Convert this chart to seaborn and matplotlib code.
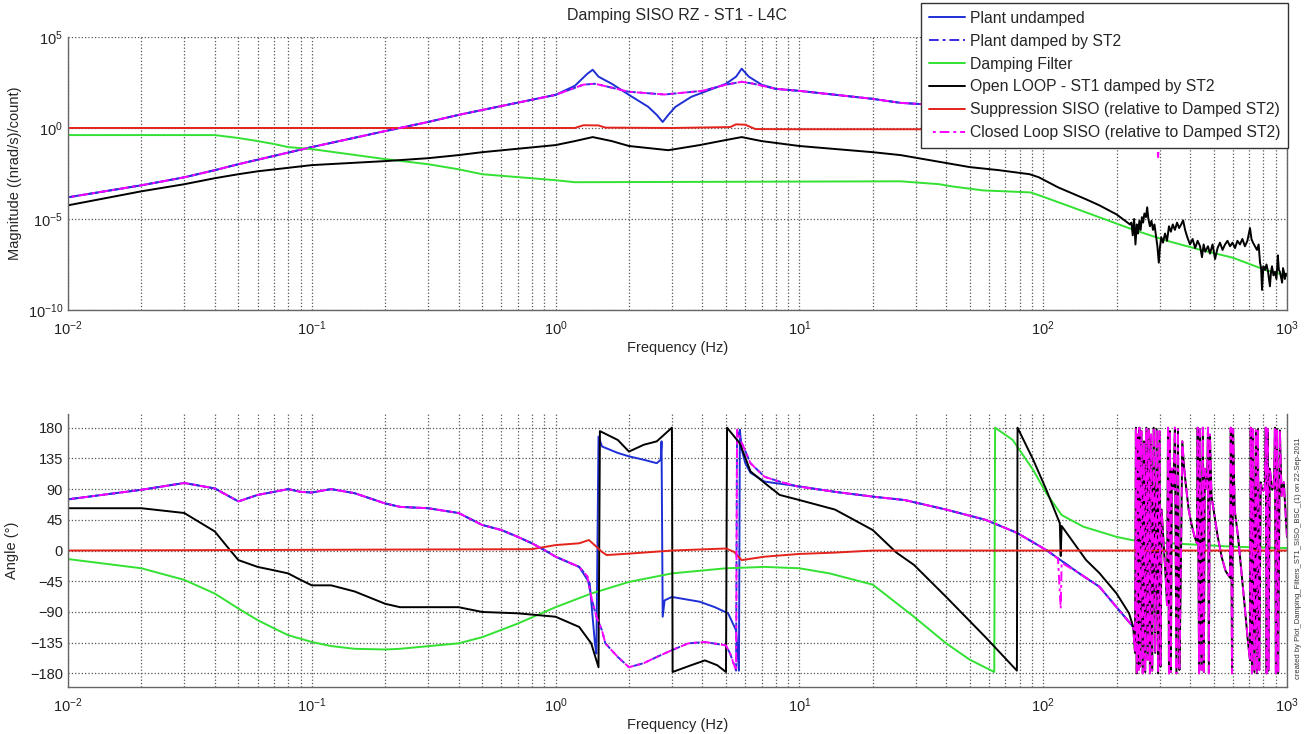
"""
Bode plot: Damping SISO RZ - ST1 - L4C
Values read off the reference figure (log10 magnitude, phase in degrees)
"""

import numpy as np
import matplotlib
matplotlib.use("Agg")
import matplotlib.pyplot as plt
import matplotlib.ticker as mticker
import seaborn as sns

# ---------------- magnitude (log10 of (nrad/s)/count) ----------------
f_mag_undamped = [0.01, 0.02, 0.03, 0.04, 0.05, 0.1, 0.2, 0.3, 0.4, 1.0, 1.2, 1.35, 1.42, 1.5, 1.7,
                  2.0, 2.4, 2.6, 2.75, 2.9, 3.1, 3.6, 4.3, 5.0, 5.5, 5.8, 6.2, 7.0, 8.0, 10, 20, 26,
                  30, 35, 60, 100, 200, 400, 1000]
mag_undamped = [-3.81, -3.15, -2.71, -2.32, -1.99, -1.05, -0.17, 0.33, 0.72, 1.82, 2.32, 2.98, 3.2,
                2.82, 2.43, 1.82, 1.16, 0.72, 0.33, 0.72, 1.16, 1.71, 2.10, 2.43, 2.82, 3.26, 2.82,
                2.38, 2.15, 2.04, 1.60, 1.38, 1.33, 1.27, 1.0, 0.75, 0.4, 0.1, -0.3]

f_mag_damped = [0.01, 0.02, 0.03, 0.04, 0.05, 0.1, 0.2, 0.3, 0.4, 1.0, 1.3, 1.45, 1.6, 2.0, 2.8,
                3.0, 4.0, 5.0, 5.8, 6.5, 8.0, 10, 20, 26, 30, 35, 60, 100, 200, 400, 1000]
mag_damped = [-3.81, -3.15, -2.71, -2.32, -1.99, -1.05, -0.17, 0.33, 0.72, 1.82, 2.38, 2.43, 2.3,
              1.99, 1.84, 1.88, 2.04, 2.38, 2.54, 2.43, 2.15, 2.04, 1.60, 1.38, 1.33, 1.27, 1.0,
              0.75, 0.4, 0.1, -0.3]

f_mag_filter = [0.01, 0.04, 0.05, 0.06, 0.07, 0.08, 0.1, 0.2, 0.3, 0.4, 0.5, 1.0, 1.2, 26, 37.5,
                41.7, 56.7, 88.6, 96.3, 125, 171, 233, 320, 440, 600, 810, 1000]
mag_filter = [-0.39, -0.39, -0.55, -0.72, -0.88, -1.05, -1.16, -1.71, -1.99, -2.27, -2.54, -2.87,
              -2.98, -2.93, -3.09, -3.20, -3.43, -3.54, -3.70, -4.25, -4.92, -5.58, -6.19, -6.69,
              -7.13, -7.79, -8.12]

f_mag_ol = [0.01, 0.02, 0.03, 0.04, 0.05, 0.06, 0.1, 0.2, 0.3, 0.4, 0.5, 1.0, 1.2, 1.42, 1.7, 2.0,
            2.9, 3.9, 5.0, 5.8, 7.0, 10, 20, 26, 50, 66, 88, 96, 115, 150, 170, 200, 227,
            230, 233, 236, 239, 242, 245, 248, 251, 254, 257,
            260, 264, 267, 270, 274, 278, 282, 286, 290, 294,
            298, 301, 305, 310, 316, 322, 328, 334, 340, 347,
            354, 361, 368, 375, 382, 390, 400, 410, 420, 430,
            440, 448, 455, 462, 474, 483, 495, 507, 519, 531,
            544, 557, 570, 584, 598, 612, 626, 641, 656, 672,
            688, 705, 715, 725, 739, 753, 765, 775, 783, 790,
            800, 812, 824, 836, 851, 860, 868, 880, 892, 905,
            917, 926, 935, 945, 955, 963, 971, 980, 990, 1000]
mag_ol = [-4.25, -3.48, -3.09, -2.76, -2.54, -2.38, -2.04, -1.82, -1.66, -1.49, -1.33, -0.94, -0.72,
          -0.50, -0.72, -0.99, -1.22, -0.94, -0.66, -0.50, -0.72, -0.99, -1.33, -1.49, -2.15, -2.32,
          -2.54, -2.71, -3.26, -3.92, -4.25, -4.75, -5.30,
          -5.2, -5.9, -5.0, -6.4, -5.3, -5.8, -5.1, -5.6, -4.9, -5.2,
          -4.7, -4.9, -4.36, -5.0, -5.4, -5.1, -5.6, -5.3, -5.9, -6.5,
          -7.4, -6.6, -6.0, -6.3, -5.8, -6.2, -5.4, -5.7, -5.3, -5.6,
          -5.2, -5.5, -5.3, -5.08, -5.6, -6.0, -6.4, -6.1, -6.6, -6.2,
          -6.5, -7.1, -6.4, -6.8, -6.5, -6.9, -6.4, -7.2, -6.6, -6.3,
          -6.7, -6.4, -6.2, -6.5, -6.3, -6.6, -6.2, -6.4, -6.1, -6.5,
          -6.2, -5.5, -6.1, -6.3, -6.5, -6.7, -6.4, -7.4, -7.7, -8.9,
          -7.6, -7.8, -7.5, -7.9, -8.7, -7.9, -7.6, -8.1, -7.9, -8.3,
          -7.0, -7.8, -7.9, -8.2, -8.5, -7.7, -7.9, -8.3, -8.0, -8.1]

f_mag_supp = [0.01, 1.2, 1.3, 1.5, 1.6, 3.0, 5.2, 5.5, 6.0, 6.6, 10, 1000]
mag_supp = [0, 0, 0.15, 0.14, 0.02, 0.0, 0.05, 0.2, 0.18, -0.06, -0.07, -0.07]

f_mag_cl = [0.01, 0.02, 0.03, 0.04, 0.05, 0.1, 0.2, 0.3, 0.4, 1.0, 1.3, 1.45, 1.6, 2.0, 2.8, 3.0,
            4.0, 5.0, 5.8, 6.5, 8.0, 10, 20, 26, 30, 35, 60, 100, 200, 290, 296, 302, 400, 1000]
mag_cl = [-3.81, -3.15, -2.71, -2.32, -1.99, -1.05, -0.17, 0.33, 0.72, 1.82, 2.38, 2.43, 2.3, 1.99,
          1.84, 1.88, 2.04, 2.38, 2.54, 2.43, 2.15, 2.04, 1.60, 1.38, 1.33, 1.27, 1.0, 0.75, 0.4,
          0.2, -1.6, 0.2, 0.1, -0.3]

# ---------------- phase (degrees) ----------------
f_ph_undamped = [0.01, 0.02, 0.03, 0.04, 0.05, 0.06, 0.07, 0.08, 0.09, 0.1, 0.12, 0.15, 0.2, 0.23,
                 0.3, 0.4, 0.5, 0.6, 0.7, 0.8, 0.9, 1.0, 1.25, 1.38, 1.45, 1.47, 1.5, 1.55, 1.8,
                 2.0, 2.3, 2.6, 2.7, 2.72, 2.75, 2.8, 3.0, 3.9, 4.5, 5.1, 5.5, 5.6, 5.65, 5.7, 5.8,
                 6.0, 6.3, 7.2, 10, 14, 20, 27, 40, 58, 78, 103, 140, 170, 234]
ph_undamped = [75, 89, 99, 91, 72, 81.5, 86, 90, 86, 85, 90, 84, 69, 64, 62, 55, 37.5, 30, 20,
               10.6, 0.7, -9, -24, -48, -136, -151, 167, 152.5, 143, 138, 133, 128, 133, 160, -97,
               -73, -68, -75, -83, -92, -117, -156, -176, 177, 148, 128, 114, 101, 94, 86, 79, 74,
               60, 45, 26, 0.7, -33, -53, -112]

f_ph_damped = [0.01, 0.02, 0.03, 0.04, 0.05, 0.06, 0.07, 0.08, 0.09, 0.1, 0.12, 0.15, 0.2, 0.23,
               0.3, 0.4, 0.5, 0.6, 0.7, 0.8, 0.9, 1.0, 1.25, 1.35, 1.4, 1.47, 1.55, 1.6, 1.8, 2.0,
               2.3, 2.6, 3.0, 3.5, 4.1, 5.0, 5.2, 5.5, 5.55, 5.8, 6.3, 7.2, 8.3, 9.8, 14, 20, 27,
               40, 58, 78, 103, 140, 170, 234]
ph_damped = [75, 89, 99, 91, 72, 81.5, 86, 90, 86, 85, 90, 84, 69, 64, 62, 55, 37.5, 30, 20, 10.6,
             0.7, -9, -24, -38, -68, -97, -117, -136, -156, -171, -165, -156, -146, -136, -134,
             -139, -151, -176, 177, 158, 128, 108, 101, 94, 86, 79, 74, 60, 45, 26, 0.7, -33,
             -53, -112]

f_ph_filter = [0.01, 0.02, 0.03, 0.04, 0.05, 0.06, 0.07, 0.08, 0.1, 0.12, 0.15, 0.2, 0.23, 0.4,
               0.5, 0.7, 1.0, 1.4, 2.0, 3.0, 5.0, 7.2, 10, 13.3, 20, 29.5, 40, 50, 63, 63.5, 75,
               91, 103, 119, 146, 200, 234, 320, 600, 1000]
ph_filter = [-12.5, -26, -43, -63, -85, -102, -114, -124, -134, -140, -144, -145, -144, -136, -127,
             -107, -83, -63, -46, -33.5, -26, -24, -26, -33.5, -50, -97, -136, -160, -178, 180,
             162, 118, 84, 52, 35, 20, 15, 11, 5.6, 3.6]

f_ph_supp = [0.01, 0.8, 1.0, 1.25, 1.37, 1.47, 1.55, 1.62, 2.1, 3.0, 5.0, 5.4, 5.8, 7.2, 10, 14, 20,
             1000]
ph_supp = [0, 2, 8, 10.6, 15.4, 5.6, -2, -6.6, -4, 0, 3, -2, -14, -9, -5, -3, 0, 0]

f_ph_ol = [0.01, 0.02, 0.03, 0.04, 0.045, 0.05, 0.06, 0.07, 0.08, 0.09, 0.1, 0.12, 0.15, 0.2, 0.23,
           0.4, 0.5, 0.7, 1.0, 1.25, 1.4, 1.5, 1.52, 1.8, 2.0, 2.3, 2.6, 3.0, 3.02, 3.6, 4.1, 4.6,
           5.0, 5.05, 5.7, 6.3, 7.2, 8.3, 10, 14, 20, 25, 29.5, 40, 58, 78, 78.5, 91, 103, 117,
           118, 119, 150, 170, 200, 225, 234]
ph_ol = [62, 62, 55, 28, 5.6, -14, -24, -29, -33.5, -43, -51, -51, -60, -78, -83, -83, -90, -92,
         -97, -112, -136, -171, 175, 162, 145, 155, 160, 180, -178, -168, -161, -168, -178, 180,
         157, 116, 99, 81.5, 74, 60, 30, -3, -21, -68, -127, -176, 180, 133, 89, 40, -8, 36, -14,
         -33, -63, -92, -112]

f_ph_cl = [0.01, 0.02, 0.03, 0.04, 0.05, 0.06, 0.07, 0.08, 0.09, 0.1, 0.12, 0.15, 0.2, 0.23, 0.3,
           0.4, 0.5, 0.6, 0.7, 0.8, 0.9, 1.0, 1.25, 1.35, 1.4, 1.47, 1.55, 1.6, 1.8, 2.0, 2.3,
           2.6, 3.0, 3.5, 4.1, 5.0, 5.2, 5.5, 5.55, 5.8, 6.3, 7.2, 8.3, 9.8, 14, 20, 27, 40, 58,
           78, 103, 115, 118, 119, 140, 170, 234]
ph_cl = [75, 89, 99, 91, 72, 81.5, 86, 90, 86, 85, 90, 84, 69, 64, 62, 55, 37.5, 30, 20, 10.6, 0.7,
         -9, -24, -38, -68, -97, -117, -136, -156, -171, -165, -156, -146, -136, -134, -139, -151,
         -176, 177, 158, 128, 108, 101, 94, 86, 79, 74, 60, 45, 26, 0.7, -12, -85, -18, -33, -53,
         -112]

# high-frequency wrapped phase (OL and CL overlap in this band)
f_ph_noise = [238, 240, 242, 244, 246, 248, 250, 253, 256, 259,
              262, 265, 268, 271, 274, 277, 280, 284, 288, 292,
              296, 300, 303, 306, 312, 318, 322, 325, 328, 331,
              334, 337, 342, 347, 352, 357, 362, 366, 372, 378,
              385, 395, 405, 418, 427, 430, 436, 440, 446, 452,
              456, 460, 470, 474, 478, 483, 490, 505, 520, 540,
              560, 584, 588, 595, 601, 610, 630, 650, 670, 690,
              705, 710, 718, 725, 735, 745, 753, 760, 770, 780,
              790, 800, 812, 818, 825, 832, 840, 850, 870, 885,
              892, 900, 910, 920, 935, 950, 970, 985, 1000]
ph_noise = [-150, 180, -180, 170, -175, 180, -170, 175, -180, 160,
            -178, 180, -160, 178, -180, 170, -176, 180, -150, 178,
            -180, 175, -170, 60, 10, -40, -80, 180, -180, 175,
            -178, 120, 90, 180, -180, 178, -175, -60, 160, 123,
            95, 60, 40, 20, 11, 180, -180, 178, -175, 180,
            -178, 120, 90, 180, -180, 170, 80, 50, 20, -10,
            -30, -40, 180, -180, 178, 60, 20, -30, -80, -130,
            -161, 180, -180, 178, -178, 176, -180, 178, -175, 100,
            90, 88, 92, 180, -180, 178, -176, 120, 89, 95,
            180, -180, 178, -180, 176, 80, 100, 60, 20]

labels = ['Plant undamped', 'Plant damped by ST2', 'Damping Filter',
          'Open LOOP - ST1 damped by ST2', 'Suppression SISO (relative to Damped ST2)',
          'Closed Loop SISO (relative to Damped ST2)']
colors = ['#1f2fd6', '#3a2ae0', '#33e133', '#000000', '#e3231c', '#ff00ff']
# dash-dot patterns offset so the blue and magenta dashes interleave (purple look)
styles = ['-', (0, (5, 2, 1.5, 2)), '-', '-', '-', (5, (5, 2, 1.5, 2))]

sns.set_style('white')
plt.rcParams['font.family'] = ['Liberation Sans', 'DejaVu Sans']
plt.rcParams['mathtext.fontset'] = 'custom'
plt.rcParams['mathtext.rm'] = 'Liberation Sans'

fig = plt.figure(figsize=(13.07, 7.34), dpi=100)
ax1 = fig.add_axes([0.0520, 0.5777, 0.9327, 0.3719])
ax2 = fig.add_axes([0.0520, 0.0640, 0.9327, 0.3719])

for ax in (ax1, ax2):
    ax.set_xscale('log')
ax1.set_yscale('log')

mag_sets = [(f_mag_undamped, mag_undamped), (f_mag_damped, mag_damped),
            (f_mag_filter, mag_filter), (f_mag_ol, mag_ol),
            (f_mag_supp, mag_supp), (f_mag_cl, mag_cl)]
ph_sets = [(f_ph_undamped, ph_undamped), (f_ph_damped, ph_damped),
           (f_ph_filter, ph_filter),
           (np.concatenate([f_ph_ol, f_ph_noise]), np.concatenate([ph_ol, ph_noise])),
           (f_ph_supp, ph_supp),
           (np.concatenate([f_ph_cl, f_ph_noise]), np.concatenate([ph_cl, ph_noise]))]

for (fx, lv), lab, c, ls in zip(mag_sets, labels, colors, styles):
    sns.lineplot(x=np.asarray(fx, float), y=10.0 ** np.asarray(lv, float), ax=ax1,
                 color=c, linestyle=ls, linewidth=1.4, label=lab,
                 estimator=None, sort=False)

for (fx, pv), c, ls in zip(ph_sets, colors, styles):
    sns.lineplot(x=np.asarray(fx, float), y=np.asarray(pv, float), ax=ax2,
                 color=c, linestyle=ls, linewidth=1.4, estimator=None, sort=False)

# axes styling (MATLAB-like dotted grid)
for ax in (ax1, ax2):
    ax.set_xlim(1e-2, 1e3)
    ax.xaxis.set_major_locator(mticker.LogLocator(base=10, numticks=10))
    ax.xaxis.set_minor_locator(mticker.LogLocator(base=10, subs=np.arange(2, 10), numticks=20))
    ax.xaxis.set_minor_formatter(mticker.NullFormatter())
    ax.grid(True, which='major', linestyle=':', color='#555555', linewidth=0.9)
    ax.grid(True, which='minor', axis='x', linestyle=':', color='#555555', linewidth=0.9)
    ax.tick_params(which='both', direction='in', labelsize=10.5, colors='#222222')
    ax.tick_params(which='major', length=4)
    ax.tick_params(which='minor', length=2)
    ax.tick_params(axis='x', which='major', pad=7)
    for side in ('left', 'bottom', 'right'):
        ax.spines[side].set_color('#666666')
        ax.spines[side].set_linewidth(1.0)
    ax.spines['top'].set_visible(False)
    ax.set_xlabel('Frequency (Hz)', fontsize=10.5, labelpad=2)

ax1.set_ylim(1e-10, 1e5)
ax1.set_yticks([1e-10, 1e-5, 1e0, 1e5])
ax1.yaxis.set_minor_locator(mticker.NullLocator())
ax1.set_ylabel('Magnitude ((nrad/s)/count)', fontsize=10.5)
ax1.set_title('Damping SISO RZ - ST1 - L4C', fontsize=11.5, pad=12)

ax2.set_ylim(-200, 200)
ax2.set_yticks(np.arange(-180, 181, 45))
ax2.set_ylabel('Angle (°)', fontsize=10.5, labelpad=8)

leg = ax1.legend(loc='upper right', bbox_to_anchor=(1288 / 1307, 1 - 3 / 734),
                 bbox_transform=fig.transFigure, borderaxespad=0, fontsize=11.3,
                 frameon=True, fancybox=False, framealpha=1, edgecolor='#333333',
                 handlelength=2.3, handletextpad=0.3, labelspacing=0.5,
                 borderpad=0.5)
leg.get_frame().set_linewidth(1.0)

fig.text(0.9935, 0.24, 'created by Plot_Damping_Filters_ST1_SISO_BSC_(1) on 22-Sep-2011',
         rotation=90, fontsize=5.5, ha='center', va='center', color='#333333')

plt.savefig('out.png', dpi=100)
plt.close()
